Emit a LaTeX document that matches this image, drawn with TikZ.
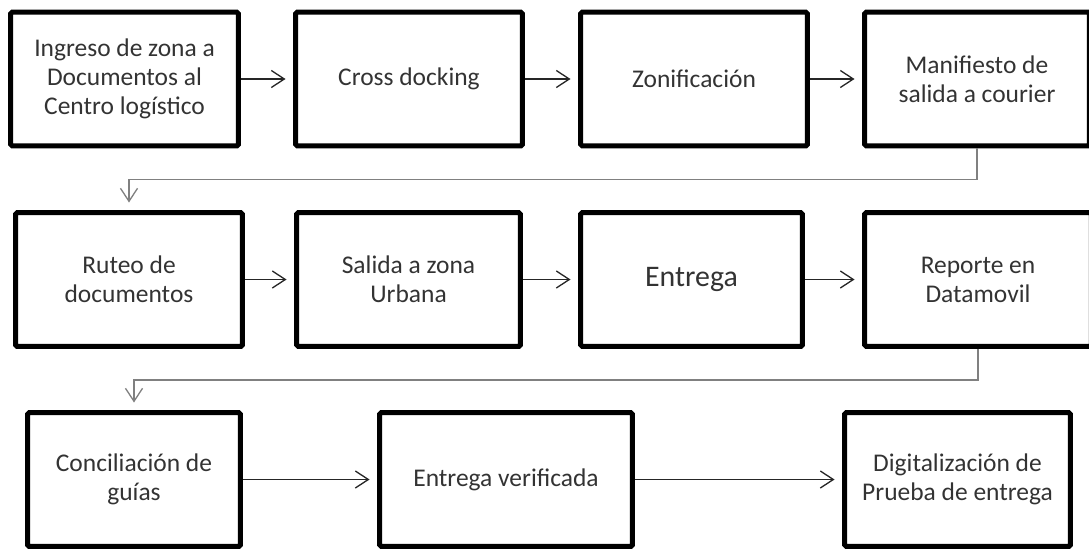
\documentclass[tikz,border=0pt]{standalone}
\usepackage{fontspec}
\setmainfont{Carlito}
\usetikzlibrary{arrows.meta}

\begin{document}
\begin{tikzpicture}[x=0.02cm, y=-0.02cm,
    paso/.style={draw=black, line width=0.1cm, rounded corners=1pt, align=center,
      inner sep=0pt, minimum height=2.68cm, text=black!80,
      font=\fontsize{14.5}{16.6}\selectfont},
    flecha/.style={-{Straight Barb[length=0.26cm, width=0.34cm]}, line width=0.75pt,
      black!85, shorten >=0.15cm},
    retorno/.style={flecha, draw=black!50}]
    % Process flow of documents through the logistics centre
    \useasboundingbox (0,0) rectangle (1089,552);

    % First row
    \node[paso, minimum width=4.56cm] (ingreso) at (124.5,79) {Ingreso de zona a\\ Documentos al\\ Centro log\'istico};
    \node[paso, minimum width=4.54cm] (cross) at (409,79) {Cross docking};
    \node[paso, minimum width=4.54cm] (zonif) at (694,79) {Zonificaci\'on};
    \node[paso, minimum width=4.5cm] (mani) at (977,79) {Manifiesto de\\ salida a courier};
    \draw[flecha] (ingreso.east) -- (cross.west);
    \draw[flecha] (cross.east) -- (zonif.west);
    \draw[flecha] (zonif.east) -- (mani.west);

    % Second row
    \node[paso, minimum width=4.54cm] (ruteo) at (129,279.5) {Ruteo de\\ documentos};
    \node[paso, minimum width=4.48cm] (salida) at (408.5,279.5) {Salida a zona\\ Urbana};
    \node[paso, minimum width=4.44cm, font=\fontsize{17}{19}\selectfont] (entrega) at (691.5,279.5) {Entrega};
    \node[paso, minimum width=4.54cm] (reporte) at (978,279.5) {Reporte en\\ Datamovil};
    \draw[retorno] (mani.south) -- ++(0,31) -| (ruteo.north);
    \draw[flecha] (ruteo.east) -- (salida.west);
    \draw[flecha] (salida.east) -- (entrega.west);
    \draw[flecha] (entrega.east) -- (reporte.west);

    % Third row
    \node[paso, minimum width=4.26cm] (concil) at (134,479.5) {Conciliaci\'on de\\ gu\'ias};
    \node[paso, minimum width=5.06cm] (verif) at (506,479.5) {Entrega verificada};
    \node[paso, minimum width=4.52cm] (digit) at (957.5,479.5) {Digitalizaci\'on de\\ Prueba de entrega};
    \draw[retorno] (reporte.south) -- ++(0,31) -| (concil.north);
    \draw[flecha] (concil.east) -- (verif.west);
    \draw[flecha] (verif.east) -- (digit.west);
\end{tikzpicture}
\end{document}
